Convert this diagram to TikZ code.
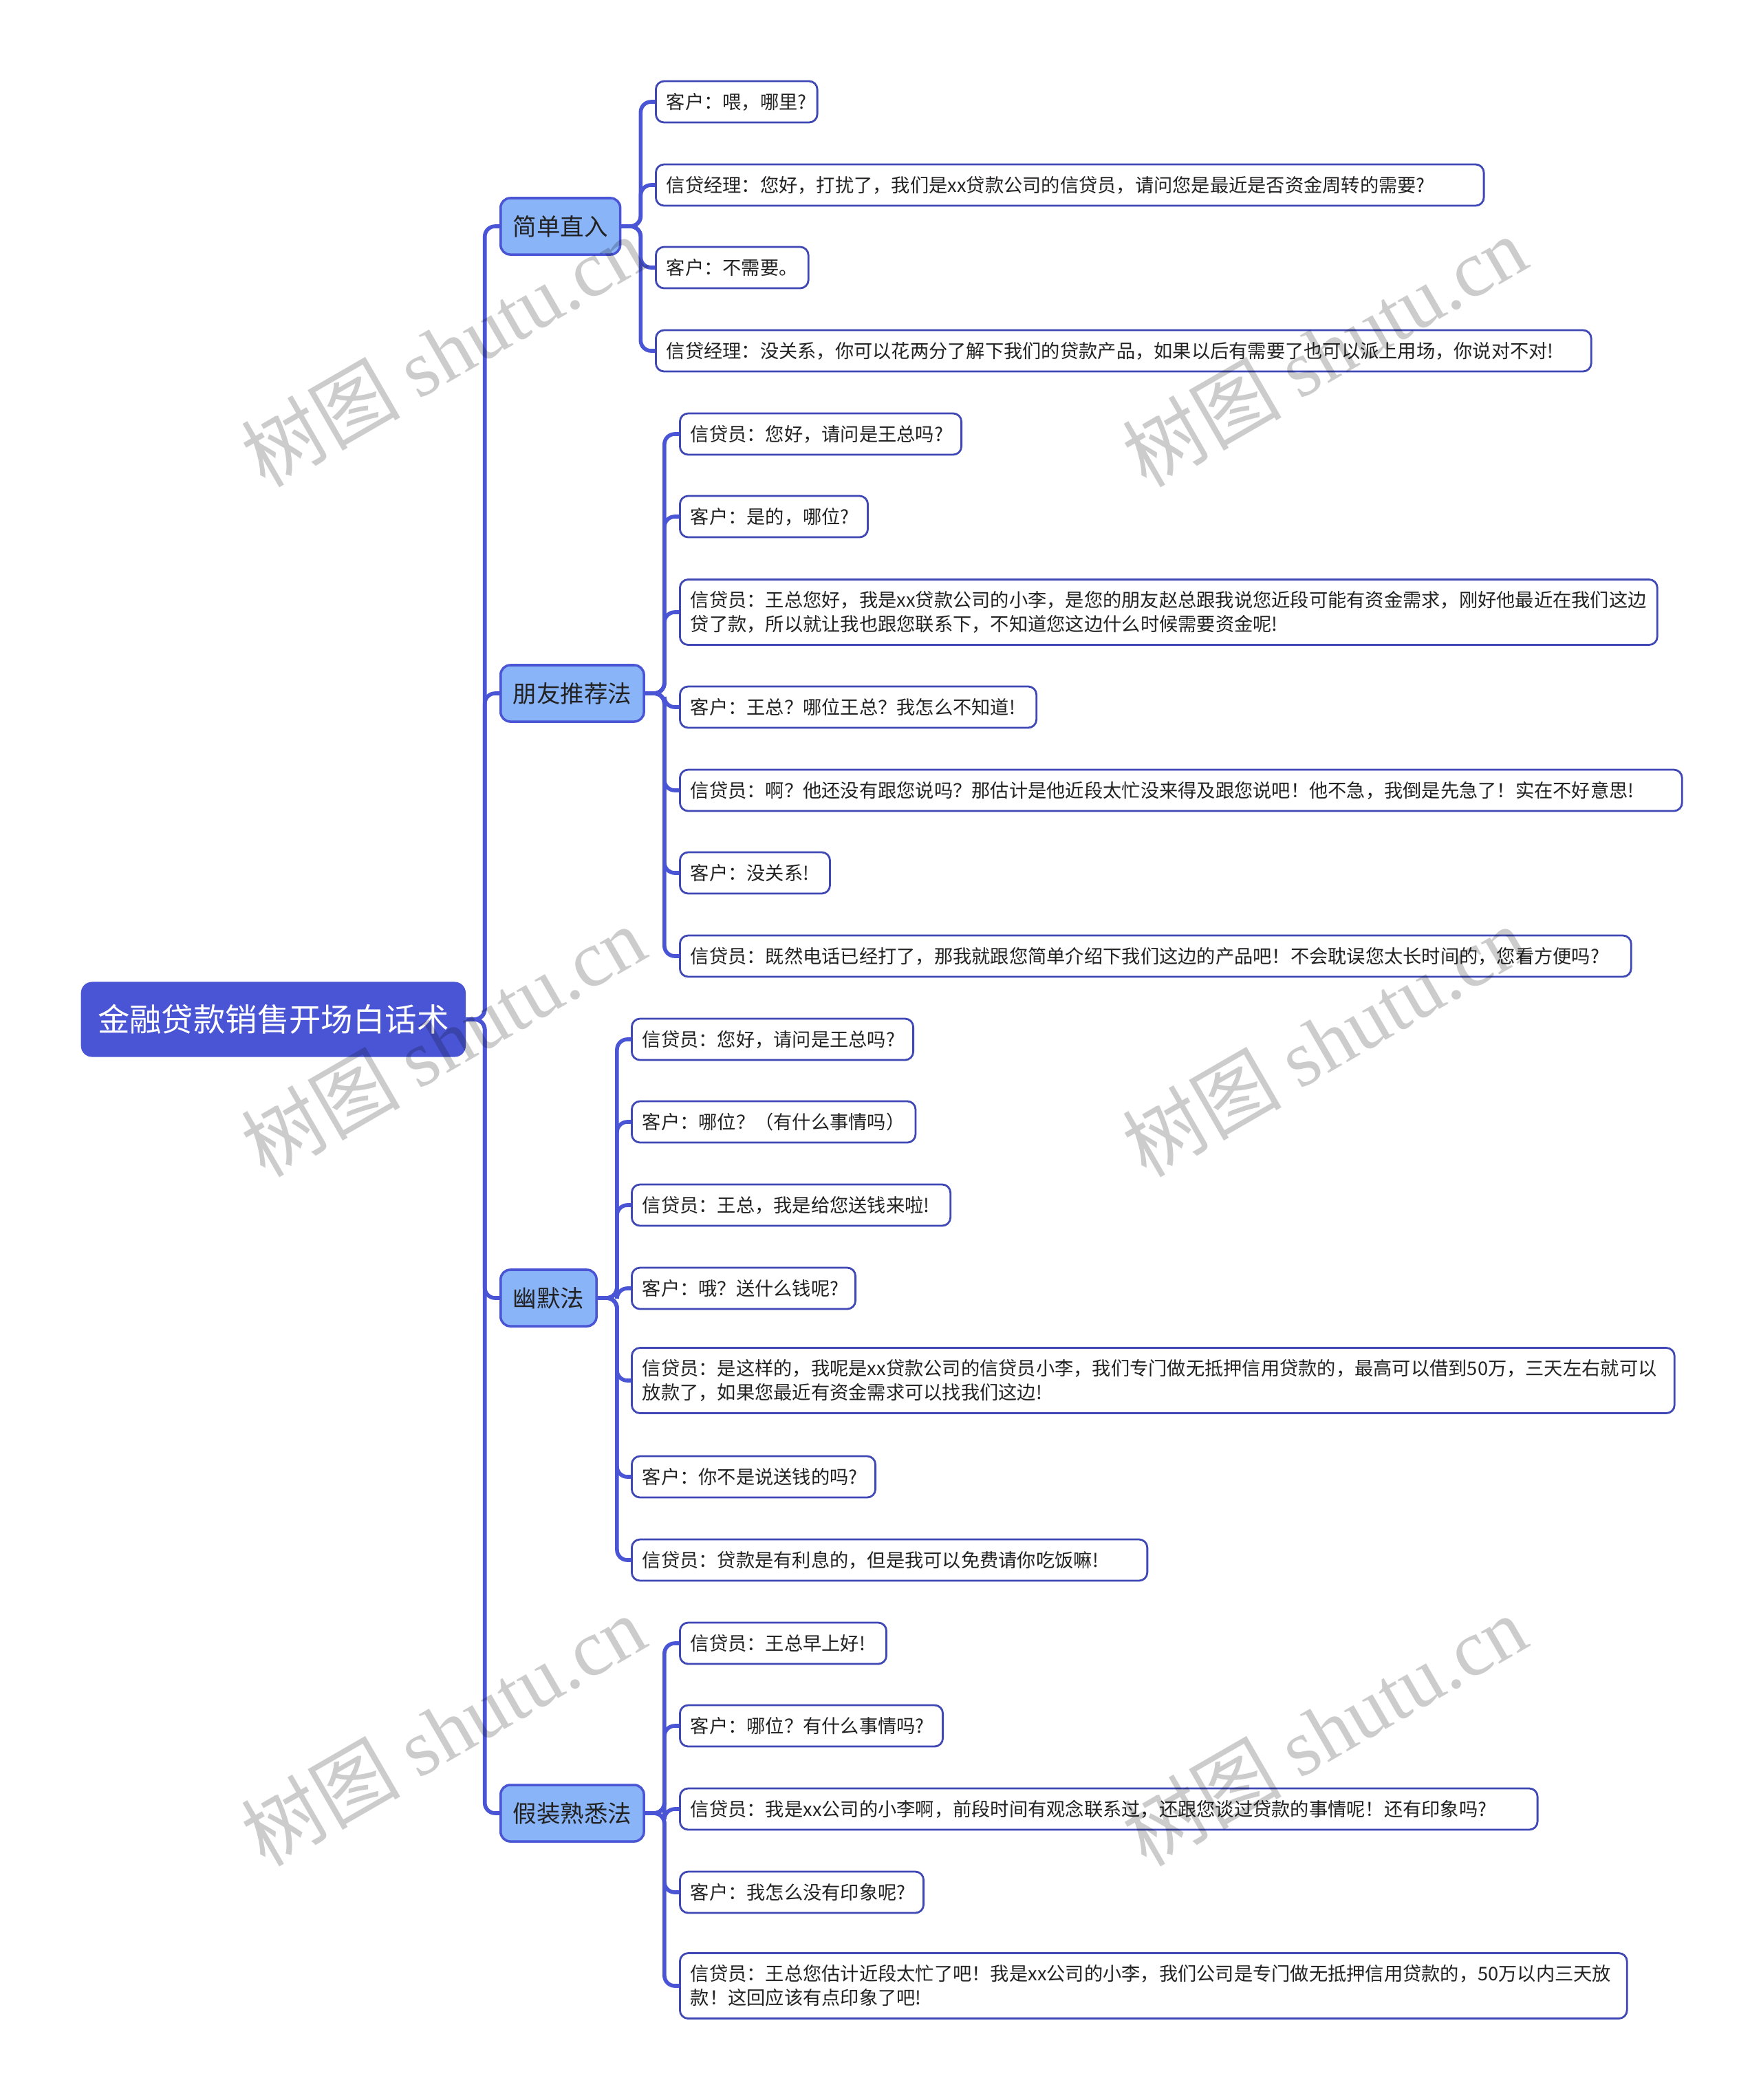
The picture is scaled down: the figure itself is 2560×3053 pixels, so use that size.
\documentclass[tikz,border=0pt]{standalone}
\usepackage{fontspec}
\setmainfont{Noto Sans CJK SC}
\newfontfamily\wmfont{Liberation Serif}
\definecolor{mainblue}{HTML}{4A55D6}
\definecolor{catfill}{HTML}{8AB4F8}
\definecolor{leafline}{HTML}{3F48B5}
\definecolor{textdark}{HTML}{222222}
\tikzset{
  rootbox/.style={fill=mainblue, rounded corners=0.16cm, anchor=west, text=white,
    minimum width=5.59cm, minimum height=1.09cm, font=\fontsize{13.2}{16}\selectfont},
  catbox/.style={draw=mainblue, line width=1pt, fill=catfill, rounded corners=0.14cm,
    anchor=west, inner xsep=0.18cm, minimum height=0.82cm, text=textdark,
    font=\fontsize{9.8}{12}\selectfont},
  talk/.style={draw=leafline, line width=0.8pt, fill=white, rounded corners=0.12cm,
    anchor=west, inner xsep=0.155cm, inner ysep=0pt, minimum height=0.6cm, align=left,
    text=textdark, font=\fontsize{7.75}{9.96}\selectfont},
  talklong/.style={talk, minimum height=0.95cm},
  wide/.style={text width=#1cm},
  link/.style={draw=mainblue, line width=1.6pt, rounded corners=0.15cm},
  wmark/.style={rotate=30, text=black, text opacity=0.2, font=\fontsize{33}{36}\selectfont}
}
\begin{document}
\begin{tikzpicture}[x=0.01cm,y=-0.01cm]
\useasboundingbox (0,0) rectangle (2560,3053);

\node[rootbox] (root) at (117,1482) {金融贷款销售开场白话术};

\node[catbox] (c1) at (726,329) {简单直入};
\node[catbox] (c2) at (726,1008) {朋友推荐法};
\node[catbox] (c3) at (726,1887) {幽默法};
\node[catbox] (c4) at (726,2636) {假装熟悉法};

% 简单直入
\node[talk] (c1a) at (952,148) {客户：喂，哪里?};
\node[talk, wide=11.72] (c1b) at (952,269) {信贷经理：您好，打扰了，我们是xx贷款公司的信贷员，请问您是最近是否资金周转的需要?};
\node[talk] (c1c) at (952,389) {客户：不需要。};
\node[talk, wide=13.28] (c1d) at (952,510) {信贷经理：没关系，你可以花两分了解下我们的贷款产品，如果以后有需要了也可以派上用场，你说对不对!};

% 朋友推荐法
\node[talk, wide=3.78] (c2a) at (987,631) {信贷员：您好，请问是王总吗?};
\node[talk, wide=2.42] (c2b) at (987,751) {客户：是的，哪位?};
\node[talklong] (c2c) at (987,890) {信贷员：王总您好，我是xx贷款公司的小李，是您的朋友赵总跟我说您近段可能有资金需求，刚好他最近在我们这边\\贷了款，所以就让我也跟您联系下，不知道您这边什么时候需要资金呢!};
\node[talk, wide=4.87] (c2d) at (987,1028) {客户：王总？哪位王总？我怎么不知道!};
\node[talk, wide=14.25] (c2e) at (987,1149) {信贷员：啊？他还没有跟您说吗？那估计是他近段太忙没来得及跟您说吧！他不急，我倒是先急了！实在不好意思!};
\node[talk, wide=1.87] (c2f) at (987,1269) {客户：没关系!};
\node[talk, wide=13.51] (c2g) at (987,1390) {信贷员：既然电话已经打了，那我就跟您简单介绍下我们这边的产品吧！不会耽误您太长时间的，您看方便吗?};

% 幽默法
\node[talk, wide=3.78] (c3a) at (917,1511) {信贷员：您好，请问是王总吗?};
\node[talk] (c3b) at (917,1631) {客户：哪位？（有什么事情吗）};
\node[talk, wide=4.32] (c3c) at (917,1752) {信贷员：王总，我是给您送钱来啦!};
\node[talk, wide=2.94] (c3d) at (917,1873) {客户：哦？送什么钱呢?};
\node[talklong, wide=14.84] (c3e) at (917,2007) {信贷员：是这样的，我呢是xx贷款公司的信贷员小李，我们专门做无抵押信用贷款的，最高可以借到50万，三天左右就可以\\放款了，如果您最近有资金需求可以找我们这边!};
\node[talk, wide=3.23] (c3f) at (917,2147) {客户：你不是说送钱的吗?};
\node[talk, wide=7.18] (c3g) at (917,2268) {信贷员：贷款是有利息的，但是我可以免费请你吃饭嘛!};

% 假装熟悉法
\node[talk, wide=2.69] (c4a) at (987,2389) {信贷员：王总早上好!};
\node[talk, wide=3.51] (c4b) at (987,2509) {客户：哪位？有什么事情吗?};
\node[talk, wide=12.15] (c4c) at (987,2630) {信贷员：我是xx公司的小李啊，前段时间有观念联系过，还跟您谈过贷款的事情呢！还有印象吗?};
\node[talk, wide=3.23] (c4d) at (987,2751) {客户：我怎么没有印象呢?};
\node[talklong, wide=13.45] (c4e) at (987,2887) {信贷员：王总您估计近段太忙了吧！我是xx公司的小李，我们公司是专门做无抵押信用贷款的，50万以内三天放\\款！这回应该有点印象了吧!};

% trunk
\draw[link] (root.east) -- ++(27,0) |- (c1.west);
\draw[link] (root.east) -- ++(27,0) |- (c2.west);
\draw[link] (root.east) -- ++(27,0) |- (c3.west);
\draw[link] (root.east) -- ++(27,0) |- (c4.west);

% branches
\draw[link] (c1.east) -- ++(28,0) |- (c1a.west);
\draw[link] (c1.east) -- ++(28,0) |- (c1b.west);
\draw[link] (c1.east) -- ++(28,0) |- (c1c.west);
\draw[link] (c1.east) -- ++(28,0) |- (c1d.west);

\draw[link] (c2.east) -- ++(28,0) |- (c2a.west);
\draw[link] (c2.east) -- ++(28,0) |- (c2b.west);
\draw[link] (c2.east) -- ++(28,0) |- (c2c.west);
\draw[link] (c2.east) -- ++(28,0) |- (c2d.west);
\draw[link] (c2.east) -- ++(28,0) |- (c2e.west);
\draw[link] (c2.east) -- ++(28,0) |- (c2f.west);
\draw[link] (c2.east) -- ++(28,0) |- (c2g.west);

\draw[link] (c3.east) -- ++(28,0) |- (c3a.west);
\draw[link] (c3.east) -- ++(28,0) |- (c3b.west);
\draw[link] (c3.east) -- ++(28,0) |- (c3c.west);
\draw[link] (c3.east) -- ++(28,0) |- (c3d.west);
\draw[link] (c3.east) -- ++(28,0) |- (c3e.west);
\draw[link] (c3.east) -- ++(28,0) |- (c3f.west);
\draw[link] (c3.east) -- ++(28,0) |- (c3g.west);

\draw[link] (c4.east) -- ++(28,0) |- (c4a.west);
\draw[link] (c4.east) -- ++(28,0) |- (c4b.west);
\draw[link] (c4.east) -- ++(28,0) |- (c4c.west);
\draw[link] (c4.east) -- ++(28,0) |- (c4d.west);
\draw[link] (c4.east) -- ++(28,0) |- (c4e.west);

% watermarks
\node[wmark] (wm1) at (644,510) {树图 {\wmfont shutu.cn}};
\node[wmark] (wm2) at (1925,510) {树图 {\wmfont shutu.cn}};
\node[wmark] (wm3) at (644,1513) {树图 {\wmfont shutu.cn}};
\node[wmark] (wm4) at (1925,1513) {树图 {\wmfont shutu.cn}};
\node[wmark] (wm5) at (644,2515) {树图 {\wmfont shutu.cn}};
\node[wmark] (wm6) at (1925,2515) {树图 {\wmfont shutu.cn}};
\end{tikzpicture}
\end{document}
